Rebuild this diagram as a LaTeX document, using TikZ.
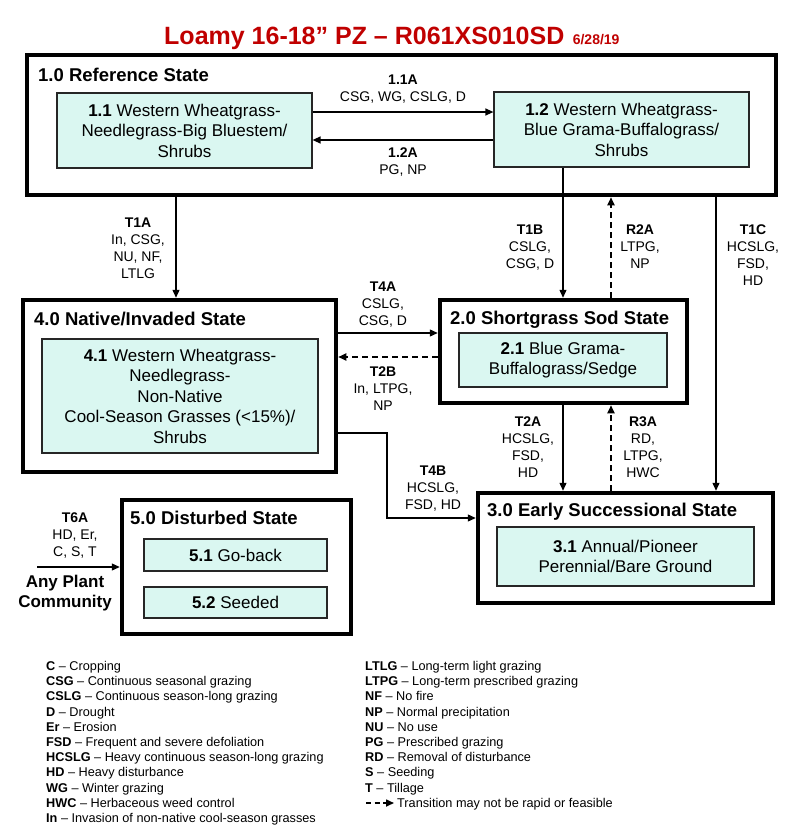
\documentclass[tikz,border=0pt]{standalone}
\usepackage{fontspec}
\setmainfont{Liberation Sans}
\usepackage{tikz}
\usetikzlibrary{arrows.meta, positioning, calc}
\definecolor{mcomm}{HTML}{DAF7F1}
\definecolor{mtitle}{HTML}{C00000}
\tikzset{
  statebox/.style={draw=black, line width=4.5pt, inner sep=0pt},
  commbox/.style={draw=black!85, fill=mcomm, line width=1.2pt, align=center,
                  font=\fontsize{17}{20.5}\selectfont, inner sep=0pt},
  sttitle/.style={anchor=base west, inner sep=0pt,
                  font=\fontsize{18.5}{22}\selectfont\bfseries},
  lbl/.style={anchor=north, align=center, inner sep=0pt,
              font=\fontsize{14}{17}\selectfont},
  arr/.style={-{Triangle[length=8pt,width=7pt]}, line width=1.3pt},
  darr/.style={arr, dash pattern=on 6pt off 4pt, line width=1.8pt},
  legend/.style={anchor=north west, align=left, inner sep=0pt,
                 font=\fontsize{12.7}{15.2}\selectfont},
}
\begin{document}
\begin{tikzpicture}[x=1pt, y=-1pt]
  \useasboundingbox (0,0) rectangle (800,830);

  \node[anchor=base west, inner sep=0pt, text=mtitle, font=\fontsize{25}{28}\selectfont\bfseries] (title) at (164,44) {Loamy 16-18” PZ – R061XS010SD};
  \node[anchor=base west, inner sep=0pt, text=mtitle, font=\fontsize{14}{16}\selectfont\bfseries] (date) at ([xshift=8pt]title.base east) {6/28/19};

  % states
  \node[statebox, minimum width=749pt, minimum height=140pt] (s1) at (401.5,125) {};
  \node[statebox, minimum width=313pt, minimum height=172pt] (s4) at (179.5,386) {};
  \node[statebox, minimum width=247pt, minimum height=103pt] (s2) at (563.5,351.5) {};
  \node[statebox, minimum width=295pt, minimum height=110pt] (s3) at (625.5,548) {};
  \node[statebox, minimum width=229pt, minimum height=134pt] (s5) at (236.5,567) {};

  \node[sttitle] (s1t) at (38,81) {1.0 Reference State};
  \node[sttitle] (s4t) at (34,325) {4.0 Native/Invaded State};
  \node[sttitle] (s2t) at (450,324) {2.0 Shortgrass Sod State};
  \node[sttitle] (s3t) at (487,516) {3.0 Early Successional State};
  \node[sttitle] (s5t) at (130,524) {5.0 Disturbed State};

  % plant communities
  \node[commbox, minimum width=255pt, minimum height=75pt] (c11) at (184.5,130.5) {\textbf{1.1} Western Wheatgrass-\\Needlegrass-Big Bluestem/\\Shrubs};
  \node[commbox, minimum width=255pt, minimum height=75pt] (c12) at (621.5,129.5) {\textbf{1.2} Western Wheatgrass-\\Blue Grama-Buffalograss/\\Shrubs};
  \node[commbox, minimum width=276pt, minimum height=114pt] (c41) at (180,396) {\textbf{4.1} Western Wheatgrass-\\Needlegrass-\\Non-Native\\Cool-Season Grasses (<15\%)/\\Shrubs};
  \node[commbox, minimum width=208pt, minimum height=54pt] (c21) at (563,360) {\textbf{2.1} Blue Grama-\\Buffalograss/Sedge};
  \node[commbox, minimum width=257pt, minimum height=59pt] (c31) at (625.5,556.5) {\textbf{3.1} Annual/Pioneer\\Perennial/Bare Ground};
  \node[commbox, minimum width=183pt, minimum height=32pt] (c51) at (235.5,555) {\textbf{5.1} Go-back};
  \node[commbox, minimum width=183pt, minimum height=31pt] (c52) at (235.5,602.5) {\textbf{5.2} Seeded};

  % pathways
  \draw[arr] (c11.east |- 0,112) -- (c12.west |- 0,112);
  \draw[arr] (c12.west |- 0,140) -- (c11.east |- 0,140);
  \node[lbl] (l11a) at (403,75) {\textbf{1.1A}\\CSG, WG, CSLG, D};
  \node[lbl] (l12a) at (403,148) {\textbf{1.2A}\\PG, NP};

  % transitions and restorations
  \draw[arr] (176,0 |- s1.south) -- (176,0 |- s4.north);
  \draw[arr] (563,0 |- c12.south) -- (563,0 |- s2.north);
  \draw[darr] (611,0 |- s2.north) -- (611,0 |- s1.south);
  \draw[arr] (716,0 |- s1.south) -- (716,0 |- s3.north);
  \draw[arr] (s4.east |- 0,333) -- (s2.west |- 0,333);
  \draw[darr] (s2.west |- 0,357) -- (s4.east |- 0,357);
  \draw[arr] (563,0 |- s2.south) -- (563,0 |- s3.north);
  \draw[darr] (611,0 |- s3.north) -- (611,0 |- s2.south);
  \draw[arr] (s4.east |- 0,433) -| (387,518) -- (s3.west |- 0,518);
  \coordinate (anyplant) at (37,567);
  \draw[arr] (anyplant) -- (s5.west |- anyplant);

  \node[lbl] (lt1a) at (138,218) {\textbf{T1A}\\In, CSG,\\NU, NF,\\LTLG};
  \node[lbl] (lt1b) at (530,225) {\textbf{T1B}\\CSLG,\\CSG, D};
  \node[lbl] (lr2a) at (640,225) {\textbf{R2A}\\LTPG,\\NP};
  \node[lbl] (lt1c) at (753,225) {\textbf{T1C}\\HCSLG,\\FSD,\\HD};
  \node[lbl] (lt4a) at (383,282) {\textbf{T4A}\\CSLG,\\CSG, D};
  \node[lbl] (lt2b) at (383,367) {\textbf{T2B}\\In, LTPG,\\NP};
  \node[lbl] (lt2a) at (528,417) {\textbf{T2A}\\HCSLG,\\FSD,\\HD};
  \node[lbl] (lr3a) at (643,417) {\textbf{R3A}\\RD,\\LTPG,\\HWC};
  \node[lbl] (lt4b) at (433,466) {\textbf{T4B}\\HCSLG,\\FSD, HD};
  \node[lbl] (lt6a) at (75,513) {\textbf{T6A}\\HD, Er,\\C, S, T};
  \node[lbl, font=\fontsize{17}{20}\selectfont\bfseries] (lany) at (65,574.5) {Any Plant\\Community};

  % legend
  \node[legend] (legl) at (46,661) {\textbf{C} -- Cropping\\\textbf{CSG} -- Continuous seasonal grazing\\\textbf{CSLG} -- Continuous season-long grazing\\\textbf{D} -- Drought\\\textbf{Er} -- Erosion\\\textbf{FSD} -- Frequent and severe defoliation\\\textbf{HCSLG} -- Heavy continuous season-long grazing\\\textbf{HD} -- Heavy disturbance\\\textbf{WG} -- Winter grazing\\\textbf{HWC} -- Herbaceous weed control\\\textbf{In} -- Invasion of non-native cool-season grasses};
  \node[legend] (legr) at (365,661) {\textbf{LTLG} -- Long-term light grazing\\\textbf{LTPG} -- Long-term prescribed grazing\\\textbf{NF} -- No fire\\\textbf{NP} -- Normal precipitation\\\textbf{NU} -- No use\\\textbf{PG} -- Prescribed grazing\\\textbf{RD} -- Removal of disturbance\\\textbf{S} -- Seeding\\\textbf{T} -- Tillage};
  \node[legend, anchor=base west] (legdash) at (397,807) {Transition may not be rapid or feasible};
  \draw[darr, line width=1.6pt, dash pattern=on 5pt off 3.5pt] ([xshift=-31pt,yshift=4pt]legdash.base west) -- ([xshift=-3pt,yshift=4pt]legdash.base west);

\end{tikzpicture}
\end{document}
